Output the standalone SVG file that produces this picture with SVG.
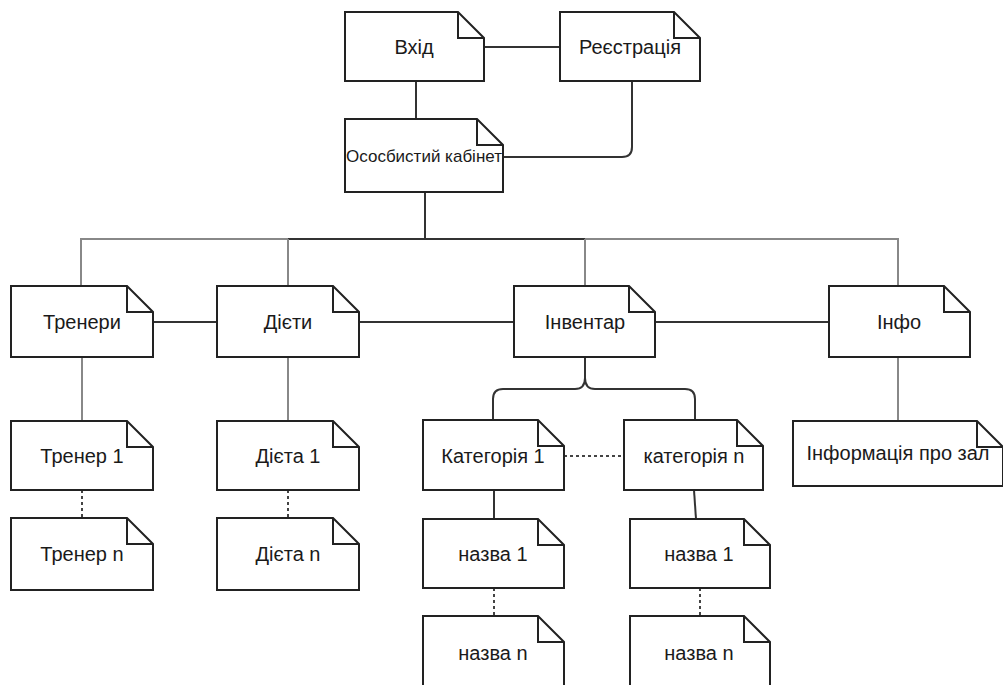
<svg xmlns="http://www.w3.org/2000/svg" width="1003" height="685" viewBox="0 0 1003 685">
<defs>
<style>
.box{fill:#fff;stroke:#222;stroke-width:2;stroke-linejoin:miter}
.fold{fill:none;stroke:#222;stroke-width:2}
.t{font-family:"Liberation Sans",Arial,sans-serif;font-size:20px;fill:#1a1a1a;text-anchor:middle;dominant-baseline:central}
.c{fill:none;stroke:#333;stroke-width:2}
.g{fill:none;stroke:#888;stroke-width:2}
.d{fill:none;stroke:#444;stroke-width:2;stroke-dasharray:3 3}
</style>
</defs>
<rect width="1003" height="685" fill="#fff"/>
<g id="connectors">
<path class="c" d="M484,47 H560"/>
<path class="c" d="M416,81 V119"/>
<path class="c" d="M632,81 V147 Q632,157 622,157 H503"/>
<path class="c" d="M425,192 V239"/>
<path class="g" d="M81,286 V239 H288"/>
<path class="c" d="M288,239 H585"/>
<path class="g" d="M585,239 H898 V286"/>
<path class="g" d="M288,239 V286"/>
<path class="g" d="M585,239 V286"/>
<path class="c" d="M153,322 H217"/>
<path class="c" d="M359,322 H514"/>
<path class="c" d="M655,322 H829"/>
<path class="g" d="M82,357 V421"/>
<path class="d" d="M82,490 V518"/>
<path class="g" d="M288,357 V421"/>
<path class="d" d="M288,490 V518"/>
<path class="c" d="M585,357 V378 Q585,389 575,389 H503 Q493,389 493,399 V420"/>
<path class="c" d="M585,378 Q585,389 595,389 H685 Q695,389 695,399 V420"/>
<path class="d" d="M564,456 H624"/>
<path class="c" d="M494,490 V519"/>
<path class="c" d="M694,490 L696,519"/>
<path class="d" d="M494,588 V616"/>
<path class="d" d="M700,588 V616"/>
<path class="g" d="M898,357 V421"/>
</g>
<g id="n-vhid"><path class="box" d="M345,12 H458 L484,38 V81 H345 Z"/><path class="fold" d="M458,12 V38 H484"/><text class="t" x="414" y="47">Вхід</text></g>
<g id="n-reiestratsiia"><path class="box" d="M560,12 H674 L700,38 V81 H560 Z"/><path class="fold" d="M674,12 V38 H700"/><text class="t" x="630" y="47">Реєстрація</text></g>
<g id="n-kabinet"><path class="box" d="M345,119 H477 L503,145 V192 H345 Z"/><path class="fold" d="M477,119 V145 H503"/><text class="t" x="424" y="156" style="font-size:17px">Ососбистий кабінет</text></g>
<g id="n-trenery"><path class="box" d="M11,286 H127 L153,312 V357 H11 Z"/><path class="fold" d="M127,286 V312 H153"/><text class="t" x="82" y="322">Тренери</text></g>
<g id="n-diety"><path class="box" d="M217,286 H333 L359,312 V357 H217 Z"/><path class="fold" d="M333,286 V312 H359"/><text class="t" x="288" y="322">Дієти</text></g>
<g id="n-inventar"><path class="box" d="M514,286 H629 L655,312 V357 H514 Z"/><path class="fold" d="M629,286 V312 H655"/><text class="t" x="585" y="322">Інвентар</text></g>
<g id="n-info"><path class="box" d="M829,286 H944 L970,312 V357 H829 Z"/><path class="fold" d="M944,286 V312 H970"/><text class="t" x="899" y="322">Інфо</text></g>
<g id="n-trener1"><path class="box" d="M11,421 H127 L153,447 V490 H11 Z"/><path class="fold" d="M127,421 V447 H153"/><text class="t" x="82" y="456">Тренер 1</text></g>
<g id="n-trenern"><path class="box" d="M11,518 H127 L153,544 V590 H11 Z"/><path class="fold" d="M127,518 V544 H153"/><text class="t" x="82" y="554">Тренер n</text></g>
<g id="n-dieta1"><path class="box" d="M217,421 H333 L359,447 V490 H217 Z"/><path class="fold" d="M333,421 V447 H359"/><text class="t" x="288" y="456">Дієта 1</text></g>
<g id="n-dietan"><path class="box" d="M217,518 H333 L359,544 V590 H217 Z"/><path class="fold" d="M333,518 V544 H359"/><text class="t" x="288" y="554">Дієта n</text></g>
<g id="n-kat1"><path class="box" d="M423,420 H538 L564,446 V490 H423 Z"/><path class="fold" d="M538,420 V446 H564"/><text class="t" x="493" y="456">Категорія 1</text></g>
<g id="n-katn"><path class="box" d="M624,420 H737 L763,446 V490 H624 Z"/><path class="fold" d="M737,420 V446 H763"/><text class="t" x="694" y="456">категорія n</text></g>
<g id="n-nazva1a"><path class="box" d="M423,519 H538 L564,545 V588 H423 Z"/><path class="fold" d="M538,519 V545 H564"/><text class="t" x="493" y="554">назва 1</text></g>
<g id="n-nazvana"><path class="box" d="M423,616 H538 L564,642 V688 H423 Z"/><path class="fold" d="M538,616 V642 H564"/><text class="t" x="493" y="653">назва n</text></g>
<g id="n-nazva1b"><path class="box" d="M630,519 H744 L770,545 V588 H630 Z"/><path class="fold" d="M744,519 V545 H770"/><text class="t" x="699" y="554">назва 1</text></g>
<g id="n-nazvanb"><path class="box" d="M630,616 H744 L770,642 V688 H630 Z"/><path class="fold" d="M744,616 V642 H770"/><text class="t" x="699" y="653">назва n</text></g>
<g id="n-infozal"><path class="box" d="M793,421 H977 L1003,447 V486 H793 Z"/><path class="fold" d="M977,421 V447 H1003"/><text class="t" x="898" y="453">Інформація про зал</text></g>
</svg>
